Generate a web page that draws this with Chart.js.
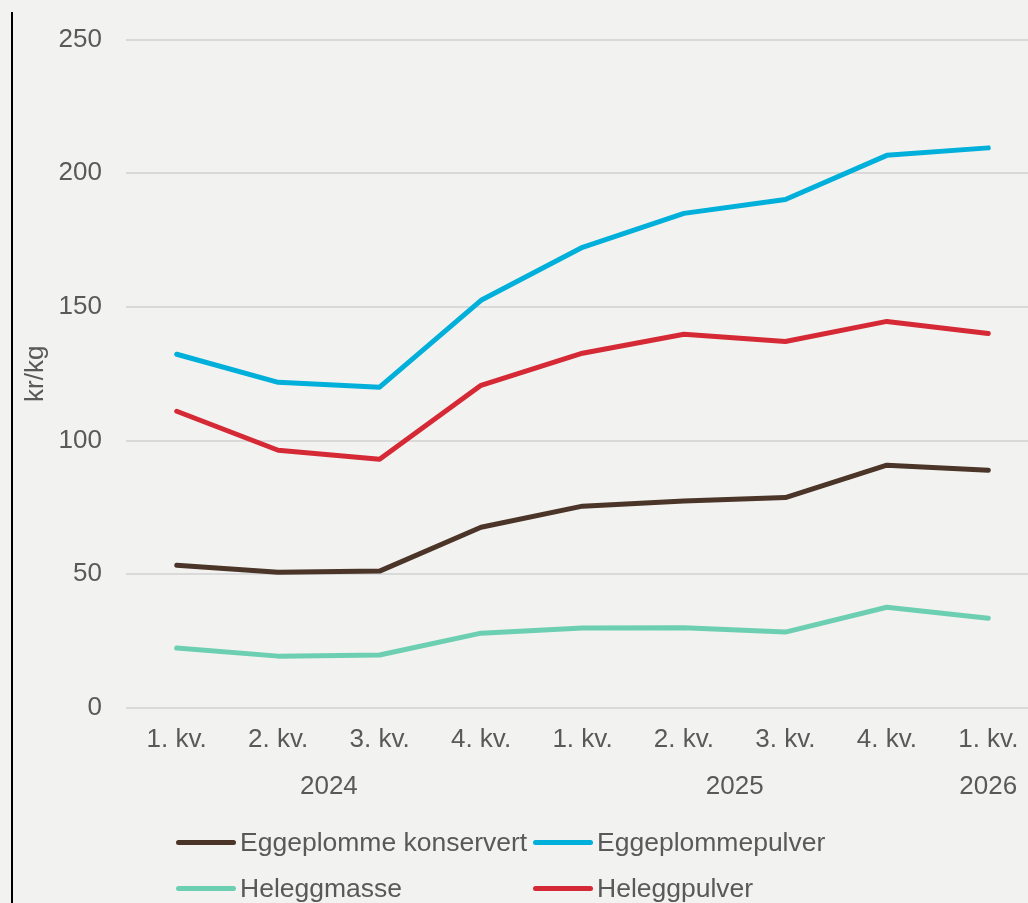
<!DOCTYPE html>
<html>
<head>
<meta charset="utf-8">
<script src="https://cdn.jsdelivr.net/npm/chart.js@4.4.1/dist/chart.umd.min.js"></script>
<style>
  html, body { margin: 0; padding: 0; background: #f2f2f0; overflow: hidden; width: 1028px; height: 903px; }
  #frame { position: absolute; left: 11px; top: 12px; bottom: 0; width: 0; border-left: 2px solid #000; }
  #wrap { position: absolute; left: 0; top: 0; width: 1040px; height: 812px; }
  #legend { position: absolute; left: 0; top: 0; width: 1028px; height: 903px; font: 26.5px "Liberation Sans", Arial, sans-serif; color: #595959; pointer-events: none; }
  .item { position: absolute; display: flex; align-items: center; height: 30px; white-space: nowrap; }
  .swatch { width: 60px; height: 5px; border-radius: 3px; margin-right: 4px; }
</style>
</head>
<body>
<div id="frame"></div>
<div id="wrap"><canvas id="priceChart"></canvas></div>
<div id="legend"></div>
<script>
// Tick labels
const quarters = ["1. kv.", "2. kv.", "3. kv.", "4. kv.", "1. kv.", "2. kv.", "3. kv.", "4. kv.", "1. kv."];
const years = ["2024", "2025", "2026"];
const quartersPerYear = [4, 4, 1];

// Series values (kr/kg)
const eggeplommeKonservert = [53.4, 50.8, 51.2, 67.6, 75.5, 77.4, 78.7, 90.8, 88.9];
const eggeplommepulver = [132.3, 121.8, 120.0, 152.5, 172.3, 185.0, 190.2, 206.7, 209.5];
const heleggmasse = [22.4, 19.4, 19.8, 28.0, 29.9, 30.0, 28.4, 37.7, 33.6];
const heleggpulver = [111.0, 96.4, 93.0, 120.7, 132.7, 139.8, 137.1, 144.6, 140.1];

const textColor = "#595959";
Chart.defaults.font.family = '"Liberation Sans", Arial, sans-serif';
Chart.defaults.color = textColor;

// centre of each year group on the category index scale
const yearCenters = [];
let start = 0;
quartersPerYear.forEach((n) => {
  yearCenters.push(start + (n - 1) / 2);
  start += n;
});

function line(label, data, color) {
  return {
    label: label,
    data: data,
    borderColor: color,
    backgroundColor: color,
    borderWidth: 5,
    borderCapStyle: "round",
    borderJoinStyle: "round",
    pointRadius: 0,
    fill: false,
    tension: 0,
  };
}

const datasets = [
  line("Eggeplomme konservert", eggeplommeKonservert, "#4b3528"),
  line("Eggeplommepulver", eggeplommepulver, "#00b0da"),
  line("Heleggmasse", heleggmasse, "#6dcfb1"),
  line("Heleggpulver", heleggpulver, "#d52a35"),
];

const ctx = document.getElementById("priceChart").getContext("2d");
const chart = new Chart(ctx, {
  type: "line",
  data: { labels: quarters, datasets: datasets },
  options: {
    responsive: true,
    maintainAspectRatio: false,
    animation: false,
    layout: { padding: { left: 0, right: 1, top: 24, bottom: 6 } },
    plugins: {
      legend: { display: false },
      tooltip: { enabled: false },
    },
    scales: {
      x: {
        weight: 0,
        offset: true,
        grid: { display: false, drawTicks: false },
        border: { display: false },
        ticks: { padding: 16, maxRotation: 0, autoSkip: false, font: { size: 26 } },
        afterFit: (axis) => { axis.height = 48; },
      },
      x2: {
        type: "linear",
        position: "bottom",
        weight: 1,
        min: -0.5,
        max: quarters.length - 0.5,
        grid: { display: false, drawTicks: false },
        border: { display: false },
        afterBuildTicks: (axis) => {
          axis.ticks = yearCenters.map((v) => ({ value: v }));
        },
        ticks: {
          padding: 15,
          maxRotation: 0,
          autoSkip: false,
          font: { size: 26 },
          callback: (value, index) => years[index],
        },
        afterFit: (axis) => { axis.height = 50; },
      },
      y: {
        min: 0,
        max: 250,
        ticks: { stepSize: 50, padding: 24, font: { size: 26 } },
        grid: { color: "#d9d9d9", lineWidth: 2, drawTicks: false },
        border: { display: false },
        title: {
          display: true,
          text: "kr/kg",
          font: { size: 26 },
          padding: { top: 20, bottom: 8 },
        },
        afterFit: (axis) => { axis.width = 126; },
      },
    },
  },
});

// legend in two aligned columns, like the original
const legendCols = [176, 533];
const legendRows = [842, 888];
const legendBox = document.getElementById("legend");
chart.data.datasets.forEach((ds, i) => {
  const item = document.createElement("div");
  item.className = "item";
  item.style.left = legendCols[i % 2] + "px";
  item.style.top = legendRows[Math.floor(i / 2)] - 15 + "px";
  const sw = document.createElement("span");
  sw.className = "swatch";
  sw.style.background = ds.borderColor;
  const txt = document.createElement("span");
  txt.textContent = ds.label;
  item.appendChild(sw);
  item.appendChild(txt);
  legendBox.appendChild(item);
});
</script>
</body>
</html>
